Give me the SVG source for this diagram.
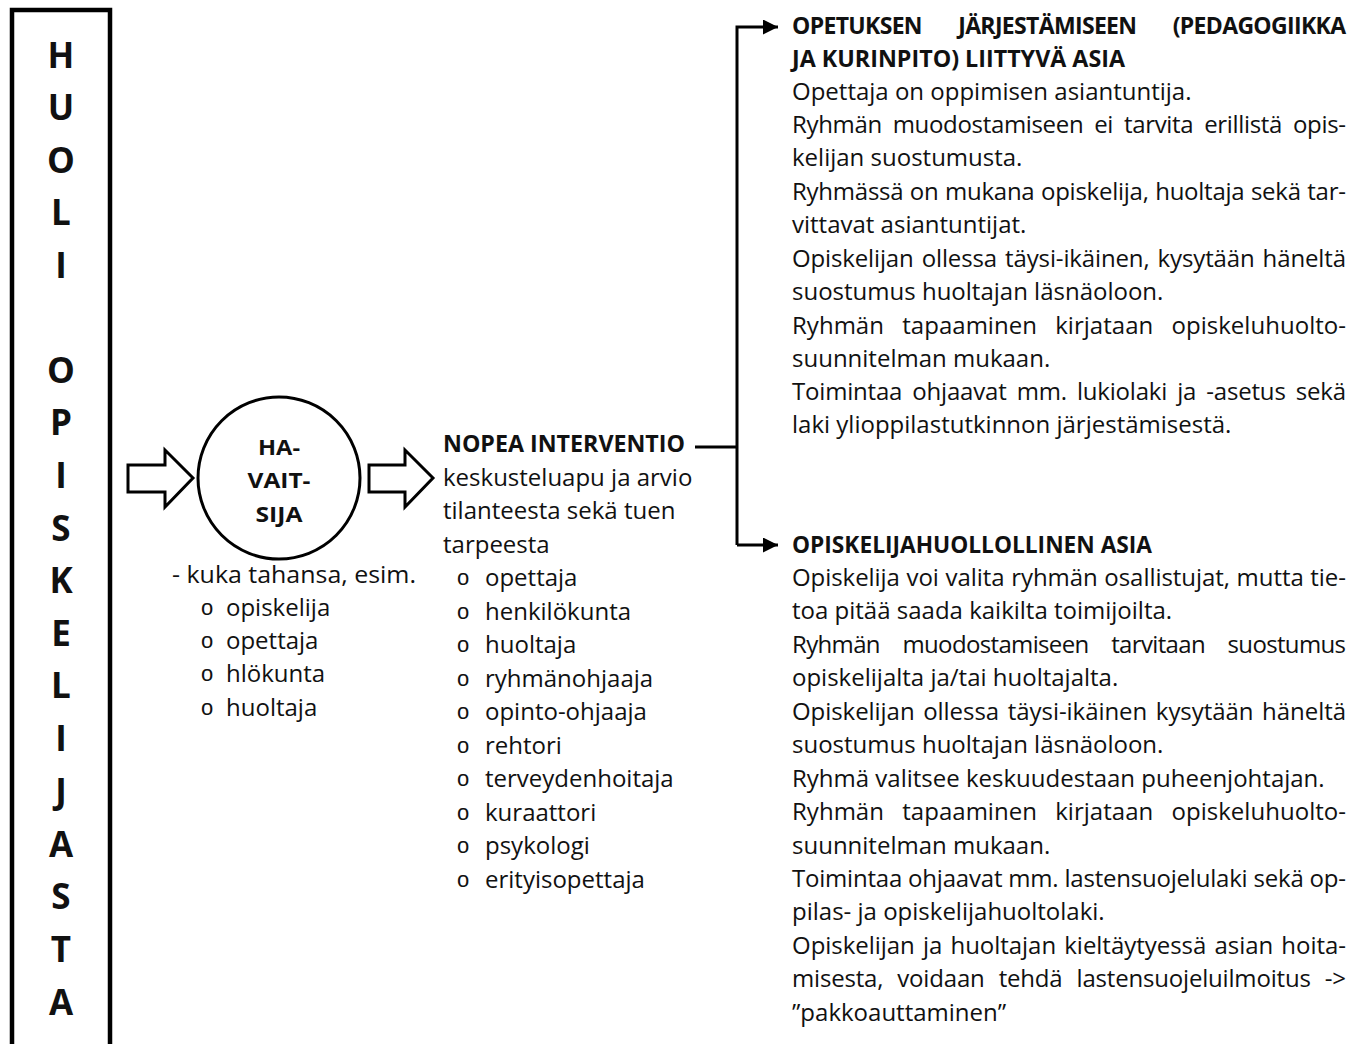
<svg xmlns="http://www.w3.org/2000/svg" width="1362" height="1044" viewBox="0 0 1362 1044">
<style>
  text { font-family: "Open Sans", "Noto Sans", sans-serif; fill: #111; }
  .t { font-size: 24px; }
  .b { font-size: 23px; font-weight: bold; }
  .big { font-size: 35px; font-weight: bold; text-anchor: middle; }
  .c { font-size: 22px; font-weight: bold; text-anchor: middle; }
  .bul { font-family: "Liberation Sans", sans-serif; font-size: 22px; }
  .ln { fill: none; stroke: #000; stroke-width: 3; }
  .hol { fill: #fff; stroke: #000; stroke-width: 3; stroke-linejoin: miter; }
</style>
<defs>
  <marker id="ah" viewBox="0 0 10 10" refX="10" refY="5" markerWidth="6" markerHeight="5" orient="auto" markerUnits="strokeWidth">
    <path d="M0,0 L10,5 L0,10 Z" fill="#000"/>
  </marker>
</defs>
<rect width="1362" height="1044" fill="#fff"/>

<g id="huoli-box">
  <rect x="12" y="10" width="98" height="1060" fill="none" stroke="#000" stroke-width="4.5"/>
  <text class="big" x="61" y="68">H</text>
  <text class="big" x="61" y="120">U</text>
  <text class="big" x="61" y="173">O</text>
  <text class="big" x="61" y="225">L</text>
  <text class="big" x="61" y="278">I</text>
  <text class="big" x="61" y="383">O</text>
  <text class="big" x="61" y="435">P</text>
  <text class="big" x="61" y="488">I</text>
  <text class="big" x="61" y="541">S</text>
  <text class="big" x="61" y="593">K</text>
  <text class="big" x="61" y="646">E</text>
  <text class="big" x="61" y="698">L</text>
  <text class="big" x="61" y="751">I</text>
  <text class="big" x="61" y="804">J</text>
  <text class="big" x="61" y="857">A</text>
  <text class="big" x="61" y="909">S</text>
  <text class="big" x="61" y="962">T</text>
  <text class="big" x="61" y="1015">A</text>
</g>

<g id="arrow-in">
  <path class="hol" d="M128,465 L165,465 L165,450 L193,478 L165,507 L165,492 L128,492 Z"/>
</g>

<g id="havaitsija">
  <circle cx="279" cy="478" r="81" fill="none" stroke="#000" stroke-width="3"/>
  <text class="c" x="279" y="455" textLength="42" lengthAdjust="spacingAndGlyphs">HA-</text>
  <text class="c" x="279" y="488" textLength="63" lengthAdjust="spacingAndGlyphs">VAIT-</text>
  <text class="c" x="279" y="522" textLength="47" lengthAdjust="spacingAndGlyphs">SIJA</text>
  <text class="t" x="172" y="583" textLength="244" lengthAdjust="spacingAndGlyphs">- kuka tahansa, esim.</text>
  <text class="bul" x="201" y="615">o</text>
  <text class="t" x="226" y="616">opiskelija</text>
  <text class="bul" x="201" y="648">o</text>
  <text class="t" x="226" y="649">opettaja</text>
  <text class="bul" x="201" y="681">o</text>
  <text class="t" x="226" y="682">hlökunta</text>
  <text class="bul" x="201" y="715">o</text>
  <text class="t" x="226" y="716">huoltaja</text>
</g>

<g id="arrow-mid">
  <path class="hol" d="M369,465 L405,465 L405,450 L433,478 L405,507 L405,492 L369,492 Z"/>
</g>

<g id="nopea-interventio">
  <text class="b" x="443" y="452" textLength="242" lengthAdjust="spacingAndGlyphs">NOPEA INTERVENTIO</text>
  <text class="t" x="443" y="486">keskusteluapu ja arvio</text>
  <text class="t" x="443" y="519">tilanteesta sekä tuen</text>
  <text class="t" x="443" y="553">tarpeesta</text>
  <text class="bul" x="457" y="585">o</text>
  <text class="t" x="485" y="586">opettaja</text>
  <text class="bul" x="457" y="619">o</text>
  <text class="t" x="485" y="620">henkilökunta</text>
  <text class="bul" x="457" y="652">o</text>
  <text class="t" x="485" y="653">huoltaja</text>
  <text class="bul" x="457" y="686">o</text>
  <text class="t" x="485" y="687">ryhmänohjaaja</text>
  <text class="bul" x="457" y="719">o</text>
  <text class="t" x="485" y="720">opinto-ohjaaja</text>
  <text class="bul" x="457" y="753">o</text>
  <text class="t" x="485" y="754">rehtori</text>
  <text class="bul" x="457" y="786">o</text>
  <text class="t" x="485" y="787">terveydenhoitaja</text>
  <text class="bul" x="457" y="820">o</text>
  <text class="t" x="485" y="821">kuraattori</text>
  <text class="bul" x="457" y="853">o</text>
  <text class="t" x="485" y="854">psykologi</text>
  <text class="bul" x="457" y="887">o</text>
  <text class="t" x="485" y="888">erityisopettaja</text>
</g>

<g id="connectors">
  <path class="ln" d="M695,447 L737,447"/>
  <path class="ln" d="M737,545 L737,27 L778,27" marker-end="url(#ah)"/>
  <path class="ln" d="M737,545 L778,545" marker-end="url(#ah)"/>
</g>

<g id="opetuksen-asia">
  <text class="b" x="792" y="34" word-spacing="31" textLength="554" lengthAdjust="spacing">OPETUKSEN JÄRJESTÄMISEEN (PEDAGOGIIKKA</text>
  <text class="b" x="792" y="67" textLength="333" lengthAdjust="spacingAndGlyphs">JA KURINPITO) LIITTYVÄ ASIA</text>
  <text class="t" x="792" y="100">Opettaja on oppimisen asiantuntija.</text>
  <text class="t" x="792" y="133" word-spacing="5" textLength="554" lengthAdjust="spacing">Ryhmän muodostamiseen ei tarvita erillistä opis-</text>
  <text class="t" x="792" y="166">kelijan suostumusta.</text>
  <text class="t" x="792" y="200" word-spacing="0.5" textLength="554" lengthAdjust="spacing">Ryhmässä on mukana opiskelija, huoltaja sekä tar-</text>
  <text class="t" x="792" y="233">vittavat asiantuntijat.</text>
  <text class="t" x="792" y="267" word-spacing="2" textLength="554" lengthAdjust="spacing">Opiskelijan ollessa täysi-ikäinen, kysytään häneltä</text>
  <text class="t" x="792" y="300">suostumus huoltajan läsnäoloon.</text>
  <text class="t" x="792" y="334" word-spacing="12" textLength="554" lengthAdjust="spacing">Ryhmän tapaaminen kirjataan opiskeluhuolto-</text>
  <text class="t" x="792" y="367">suunnitelman mukaan.</text>
  <text class="t" x="792" y="400" word-spacing="4" textLength="554" lengthAdjust="spacing">Toimintaa ohjaavat mm. lukiolaki ja -asetus sekä</text>
  <text class="t" x="792" y="433">laki ylioppilastutkinnon järjestämisestä.</text>
</g>

<g id="opiskelijahuollollinen-asia">
  <text class="b" x="792" y="553" textLength="360" lengthAdjust="spacingAndGlyphs">OPISKELIJAHUOLLOLLINEN ASIA</text>
  <text class="t" x="792" y="586" word-spacing="0.5" textLength="554" lengthAdjust="spacing">Opiskelija voi valita ryhmän osallistujat, mutta tie-</text>
  <text class="t" x="792" y="619">toa pitää saada kaikilta toimijoilta.</text>
  <text class="t" x="792" y="653" word-spacing="17" textLength="554" lengthAdjust="spacing">Ryhmän muodostamiseen tarvitaan suostumus</text>
  <text class="t" x="792" y="686">opiskelijalta ja/tai huoltajalta.</text>
  <text class="t" x="792" y="720" word-spacing="2.5" textLength="554" lengthAdjust="spacing">Opiskelijan ollessa täysi-ikäinen kysytään häneltä</text>
  <text class="t" x="792" y="753">suostumus huoltajan läsnäoloon.</text>
  <text class="t" x="792" y="787">Ryhmä valitsee keskuudestaan puheenjohtajan.</text>
  <text class="t" x="792" y="820" word-spacing="12" textLength="554" lengthAdjust="spacing">Ryhmän tapaaminen kirjataan opiskeluhuolto-</text>
  <text class="t" x="792" y="854">suunnitelman mukaan.</text>
  <text class="t" x="792" y="887" textLength="554" lengthAdjust="spacing">Toimintaa ohjaavat mm. lastensuojelulaki sekä op-</text>
  <text class="t" x="792" y="920">pilas- ja opiskelijahuoltolaki.</text>
  <text class="t" x="792" y="954" word-spacing="2" textLength="554" lengthAdjust="spacing">Opiskelijan ja huoltajan kieltäytyessä asian hoita-</text>
  <text class="t" x="792" y="987" word-spacing="8" textLength="554" lengthAdjust="spacing">misesta, voidaan tehdä lastensuojeluilmoitus -&gt;</text>
  <text class="t" x="792" y="1021">”pakkoauttaminen”</text>
</g>
</svg>
